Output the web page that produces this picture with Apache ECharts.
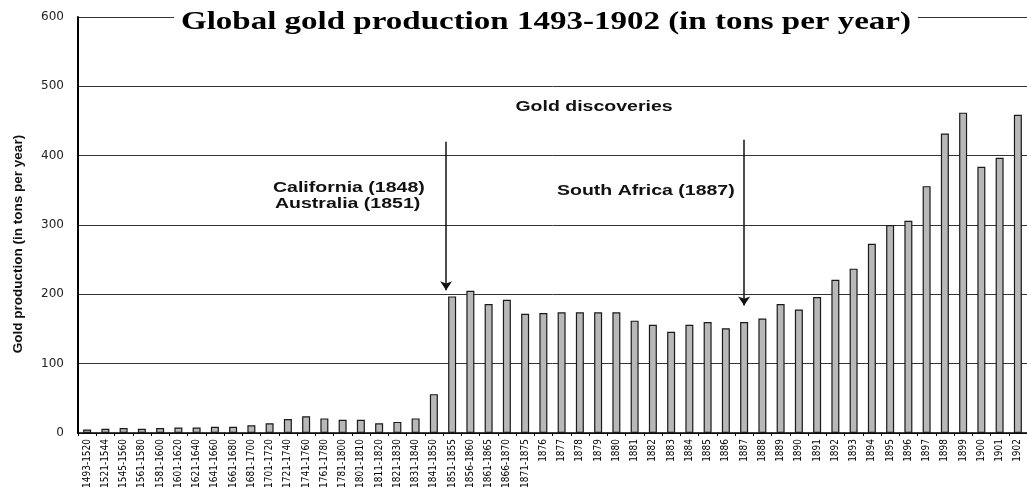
<!DOCTYPE html>
<html>
<head>
<meta charset="utf-8">
<script src="https://cdn.jsdelivr.net/npm/echarts@6/dist/echarts.min.js"></script>
<style>html,body{margin:0;padding:0;background:#fff;}#c{width:1027px;height:491px;}</style>
</head>
<body>
<div id="c"></div>
<script>
var categories = ['1493-1520','1521-1544','1545-1560','1561-1580','1581-1600','1601-1620','1621-1640','1641-1660','1661-1680','1681-1700','1701-1720','1721-1740','1741-1760','1761-1780','1781-1800','1801-1810','1811-1820','1821-1830','1831-1840','1841-1850','1851-1855','1856-1860','1861-1865','1866-1870','1871-1875','1876','1877','1878','1879','1880','1881','1882','1883','1884','1885','1886','1887','1888','1889','1890','1891','1892','1893','1894','1895','1896','1897','1898','1899','1900','1901','1902'];
var production = [5,6,7,6,7,8,8,9,9,11,14,20,24,21,19,19,14,16,21,56,197,205,186,192,172,173,174,174,174,174,162,156,146,156,160,151,160,165,186,178,196,221,237,273,300,306,356,432,462,384,397,459];
var yTicks = [0,100,200,300,400,500,600];
// discovery arrows: position along the category band scale (0 = left edge, 52 = right edge), start value, end value
var arrowPos = [20.17, 36.5];
var arrowFrom = [420, 423];
var arrowTo = [206, 184];
var titleText = 'Global gold production 1493-1902 (in tons per year)';
var yName = 'Gold production (in tons per year)';
var notes = ['Gold discoveries', 'California (1848)', 'Australia (1851)', 'South Africa (1887)'];

var chart = echarts.init(document.getElementById('c'), null, {renderer: 'canvas'});
var markData = arrowPos.map(function (p, i) {
  return [{coord: [p, arrowFrom[i]]}, {coord: [p, arrowTo[i]]}];
});
var sans = "'Liberation Sans', Arial, sans-serif";
function note(txt, x, y, align) {
  return {type: 'text', x: x, y: y, z: 100, scaleX: 1.3, scaleY: 1,
    style: {text: txt, font: 'bold 15px ' + sans, fill: '#111', textAlign: align, textVerticalAlign: 'middle'}};
}
chart.setOption({
  animation: false,
  backgroundColor: '#fff',
  grid: {left: 78, top: 17, bottom: 58, width: 951, containLabel: false},
  xAxis: [{
    type: 'category',
    data: categories,
    boundaryGap: true,
    axisLine: {show: true, lineStyle: {color: '#000', width: 1.5}},
    axisTick: {show: true, length: 3, lineStyle: {color: '#000'}},
    axisLabel: {interval: 0, rotate: 90, margin: 6, fontSize: 10, color: '#000',
      fontFamily: "'Liberation Sans Narrow', 'DejaVu Sans Condensed', 'Liberation Sans', sans-serif"},
    splitLine: {show: false}
  }, {
    type: 'value', min: 0, max: categories.length, show: false
  }],
  yAxis: {
    type: 'value',
    min: 0, max: 600, interval: 100,
    axisLine: {show: true, lineStyle: {color: '#000', width: 2}},
    axisTick: {show: false},
    axisLabel: {margin: 14, fontSize: 12, color: '#222', fontFamily: "'DejaVu Sans', sans-serif",
      formatter: function (v) { return yTicks.indexOf(v) >= 0 ? String(v) : ''; }},
    splitLine: {show: true, lineStyle: {color: '#333', width: 1}}
  },
  series: [{
    type: 'bar',
    data: production,
    barWidth: 8,
    itemStyle: {color: '#b8b8b8', borderColor: '#1a1a1a', borderWidth: 1.2}
  }, {
    type: 'line',
    xAxisIndex: 1,
    data: [],
    markLine: {
      silent: true,
      symbol: ['none', 'arrow'],
      symbolSize: 9,
      label: {show: false},
      lineStyle: {color: '#111', width: 1.5, type: 'solid'},
      data: markData
    }
  }],
  graphic: [
    {type: 'rect', z: 99, shape: {x: 174, y: 4, width: 744, height: 30}, style: {fill: '#fff'}},
    {type: 'text', x: 546, y: 23, z: 100, scaleX: 1.32, scaleY: 1,
      style: {text: titleText, font: "bold 25px 'Liberation Serif', 'Times New Roman', serif", fill: '#000', textAlign: 'center', textVerticalAlign: 'middle'}},
    {type: 'text', x: 18, y: 244, z: 100, rotation: Math.PI / 2,
      style: {text: yName, font: 'bold 13.5px ' + sans, fill: '#111', textAlign: 'center', textVerticalAlign: 'middle'}},
    note(notes[0], 594, 107, 'center'),
    note(notes[1], 273, 188, 'left'),
    note(notes[2], 275, 204, 'left'),
    note(notes[3], 557, 191, 'left')
  ]
});
</script>
</body>
</html>
